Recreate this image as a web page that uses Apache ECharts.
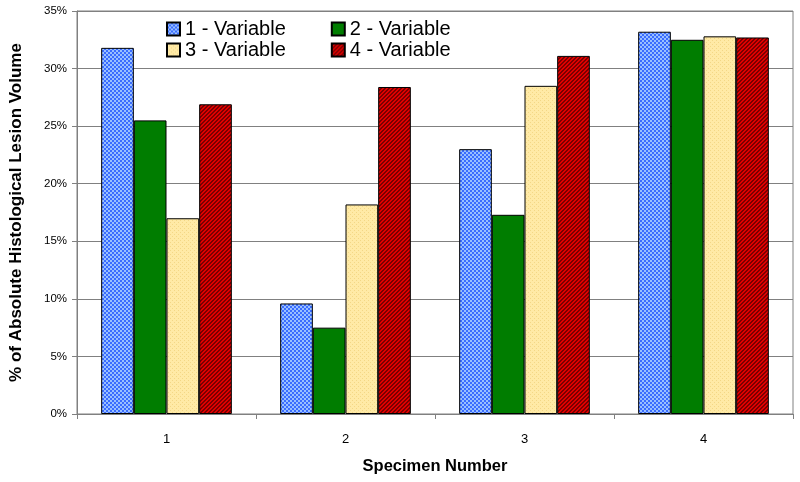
<!DOCTYPE html>
<html>
<head>
<meta charset="utf-8">
<script src="https://cdn.jsdelivr.net/npm/echarts@6/dist/echarts.min.js"></script>
<style>
html,body{margin:0;padding:0;background:#fff;}
#chart{width:800px;height:482px;}
</style>
</head>
<body>
<div id="chart"></div>
<script>
// ---- data ----
const categories = ['1', '2', '3', '4'];
const seriesNames = ['1 - Variable', '2 - Variable', '3 - Variable', '4 - Variable'];
const variable1 = [31.8, 9.6, 23.0, 33.2];
const variable2 = [25.5, 7.5, 17.3, 32.5];
const variable3 = [17.0, 18.2, 28.5, 32.8];
const variable4 = [26.9, 28.4, 31.1, 32.7];
const yTicks = [0, 5, 10, 15, 20, 25, 30, 35];

// ---- patterns ----
function makePattern(size, draw) {
  const c = document.createElement('canvas');
  c.width = size; c.height = size;
  const ctx = c.getContext('2d');
  draw(ctx);
  return { image: c, repeat: 'repeat' };
}
const bluePattern = makePattern(4, ctx => {
  ctx.fillStyle = '#99c0ff'; ctx.fillRect(0, 0, 4, 4);
  ctx.fillStyle = '#3a6cff';
  ctx.fillRect(0, 0, 2, 2); ctx.fillRect(2, 2, 2, 2);
});
const yellowPattern = makePattern(4, ctx => {
  ctx.fillStyle = '#ffeaa6'; ctx.fillRect(0, 0, 4, 4);
  ctx.fillStyle = '#f3d786';
  ctx.fillRect(0, 0, 1, 1); ctx.fillRect(2, 2, 1, 1);
});
const redPattern = makePattern(4, ctx => {
  ctx.fillStyle = '#e00000'; ctx.fillRect(0, 0, 4, 4);
  ctx.fillStyle = '#7a0000';
  for (let x = 0; x < 4; x++) for (let y = 0; y < 4; y++) {
    if ((x + y) % 4 === 0 || (x + y) % 4 === 1) ctx.fillRect(x, y, 1, 1);
  }
});
const fills = [bluePattern, '#007d00', yellowPattern, redPattern];
const values = [variable1, variable2, variable3, variable4];

const chart = echarts.init(document.getElementById('chart'), null, { renderer: 'canvas' });

const FONT = 'Arial, "Liberation Sans", sans-serif';
const legendText = { fontFamily: FONT, fontSize: 20, lineHeight: 20, color: '#000' };
const legendBase = { left: 166, itemWidth: 13, itemHeight: 13, itemGap: 45, icon: 'rect', padding: 0, textStyle: legendText, selectedMode: false };
const option = {
  animation: false,
  backgroundColor: '#fff',
  grid: { left: 77, right: 7, top: 11, bottom: 68, show: true, borderColor: '#808080', borderWidth: 1, outerBoundsMode: 'none', containLabel: false },
  legend: [
    Object.assign({}, legendBase, { data: [seriesNames[0], seriesNames[1]], top: 19 }),
    Object.assign({}, legendBase, { data: [seriesNames[2], seriesNames[3]], top: 40 })
  ],
  xAxis: {
    type: 'category',
    data: categories,
    name: 'Specimen Number',
    nameLocation: 'middle',
    nameGap: 44,
    nameTextStyle: { fontFamily: FONT, fontSize: 16.5, fontWeight: 'bold', color: '#000' },
    axisLine: { lineStyle: { color: '#808080', width: 1 } },
    axisTick: { show: true, length: 5, alignWithLabel: false, lineStyle: { color: '#808080' } },
    axisLabel: { margin: 19, fontFamily: FONT, fontSize: 13, color: '#000' },
    splitLine: { show: false }
  },
  yAxis: {
    type: 'value',
    min: 0, max: 35, interval: 5,
    name: '% of Absolute Histological Lesion Volume',
    nameLocation: 'middle',
    nameGap: 52,
    nameTextStyle: { fontFamily: FONT, fontSize: 17, fontWeight: 'bold', color: '#000' },
    axisLine: { show: true, lineStyle: { color: '#808080', width: 1 } },
    axisTick: { show: true, length: 5, lineStyle: { color: '#808080' } },
    axisLabel: {
      margin: 10,
      fontFamily: FONT, fontSize: 11.5, color: '#000',
      formatter: v => (yTicks.indexOf(v) >= 0 ? v + '%' : '')
    },
    splitLine: { show: true, lineStyle: { color: '#808080', width: 1 } }
  },
  series: seriesNames.map((n, i) => ({
    name: n,
    type: 'bar',
    data: values[i],
    barGap: '0%',
    barCategoryGap: '27%',
    itemStyle: { color: fills[i], borderColor: '#000', borderWidth: 1 }
  }))
};
chart.setOption(option);
</script>
</body>
</html>
